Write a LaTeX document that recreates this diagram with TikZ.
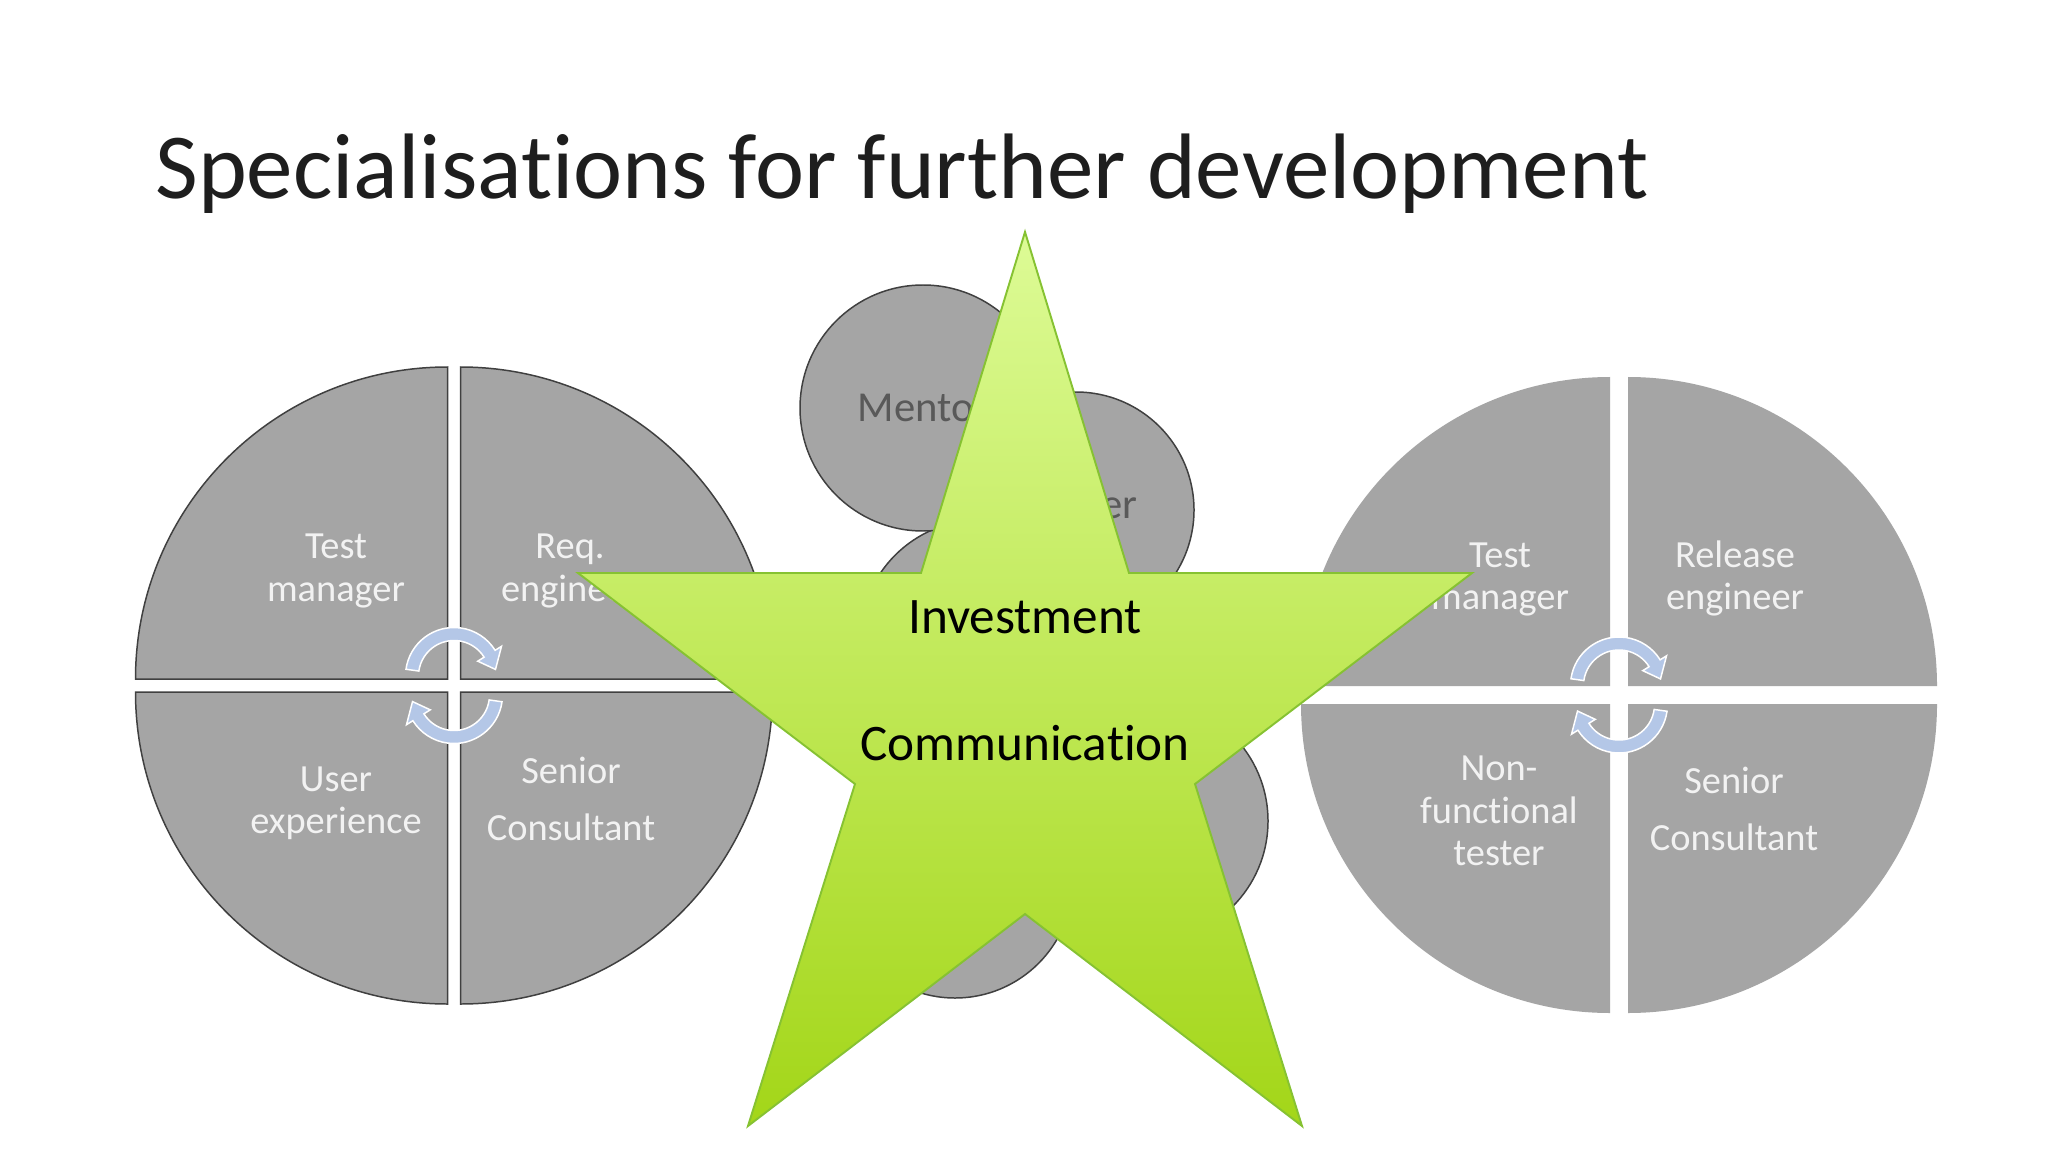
\documentclass[tikz,border=0pt]{standalone}
\usepackage{fontspec}
\setmainfont{Carlito}[Ligatures={NoCommon}]
\definecolor{quadfill}{HTML}{A5A5A5}
\definecolor{quadline}{HTML}{404040}
\definecolor{labelcol}{HTML}{F2F2F2}
\definecolor{mentcol}{HTML}{595959}
\definecolor{arrowcol}{HTML}{B4C7E7}
\definecolor{titlecol}{HTML}{1E1E1E}
\definecolor{startop}{HTML}{DDFB96}
\definecolor{starmid}{HTML}{D1F374}
\definecolor{starbot}{HTML}{A3D618}
\definecolor{starline}{HTML}{86C232}
\begin{document}
\begin{tikzpicture}[x=0.46875pt, y=-0.46875pt,
  quadL/.style={fill=quadfill, draw=quadline, line width=0.7pt},
  quadR/.style={fill=quadfill},
  bubble/.style={fill=quadfill, draw=quadline, line width=0.7pt},
  arrowfill/.style={fill=arrowcol, draw=white, line width=0.7pt, line join=miter},
  lbl/.style={anchor=base, inner sep=0pt, text=labelcol, font=\fontsize{18}{21}\selectfont},
  startext/.style={anchor=base, inner sep=0pt, text=black, font=\fontsize{24}{29}\selectfont},
  menttext/.style={inner sep=0pt, text=mentcol, font=\fontsize{20}{24}\selectfont},
  cyc/.pic={
    \begin{scope}[shift={(0,-9.5)}]
      \filldraw[arrowfill] (188:48.5) arc[start angle=188, end angle=328, radius=48.5]
        -- (328:56) -- (351:42) -- (328:28) -- (328:35.5)
        arc[start angle=328, end angle=188, radius=35.5] -- cycle;
    \end{scope}
  }]
\useasboundingbox (0,0) rectangle (2048,1152);
\fill[white] (0,0) rectangle (2048,1152);

% title
\node[anchor=base west, inner sep=0pt, text=titlecol, font=\fontsize{43.6}{52}\selectfont] (title) at (155,198.3) {Specialisations for further development};

% left disc
\begin{scope}[shift={(454,685.5)}]
  \filldraw[quadL] (-6.5,-6.5) -- ++(180:312) arc[start angle=180, end angle=270, radius=312] -- cycle;
  \filldraw[quadL] (6.5,-6.5) -- ++(270:312) arc[start angle=270, end angle=360, radius=312] -- cycle;
  \filldraw[quadL] (6.5,6.5) -- ++(0:312) arc[start angle=0, end angle=90, radius=312] -- cycle;
  \filldraw[quadL] (-6.5,6.5) -- ++(90:312) arc[start angle=90, end angle=180, radius=312] -- cycle;
  \pic {cyc};
  \pic[rotate=180] {cyc};
\end{scope}

% right disc
\begin{scope}[shift={(1619,695)}]
  \fill[quadR] (-9,-9) -- ++(180:309) arc[start angle=180, end angle=270, radius=309] -- cycle;
  \fill[quadR] (9,-9) -- ++(270:309) arc[start angle=270, end angle=360, radius=309] -- cycle;
  \fill[quadR] (9,9) -- ++(0:309) arc[start angle=0, end angle=90, radius=309] -- cycle;
  \fill[quadR] (-9,9) -- ++(90:309) arc[start angle=90, end angle=180, radius=309] -- cycle;
  \pic {cyc};
  \pic[rotate=180] {cyc};
\end{scope}

% left labels
\node[lbl] (l1a) at (336,558) {Test};
\node[lbl] (l1b) at (336,601) {manager};
\node[lbl] (l2a) at (570,558) {Req.};
\node[lbl] (l2b) at (570,601) {engineer};
\node[lbl] (l3a) at (336,791.5) {User};
\node[lbl] (l3b) at (336,833) {experience};
\node[lbl] (l4a) at (571,783.6) {Senior};
\node[lbl] (l4b) at (571,840) {Consultant};

% right labels
\node[lbl] (r1a) at (1500,567.3) {Test};
\node[lbl] (r1b) at (1500,609.4) {manager};
\node[lbl] (r2a) at (1735,567.3) {Release};
\node[lbl] (r2b) at (1735,609.4) {engineer};
\node[lbl] (r3a) at (1499,780.6) {Non-};
\node[lbl] (r3b) at (1499,823) {functional};
\node[lbl] (r3c) at (1499,865.2) {tester};
\node[lbl] (r4a) at (1734,793.6) {Senior};
\node[lbl] (r4b) at (1734,850) {Consultant};

% bubbles behind the star
\filldraw[bubble] (980,640) circle[radius=120];
\filldraw[bubble] (923,408) circle[radius=123];
\filldraw[bubble] (1076,510) circle[radius=118];
\filldraw[bubble] (1147,821) circle[radius=121];
\filldraw[bubble] (955,880) circle[radius=118];
\node[menttext, anchor=base] (mentor) at (923,421.7) {Mentor};
\node[menttext, anchor=base east] (er) at (1138,518) {er};

% star
\shade[top color=startop, middle color=starmid, bottom color=starbot]
  (1025,232) -- (1129,573) -- (1472,573) -- (1195,784) -- (1302,1126)
  -- (1025,914) -- (748,1126) -- (855,784) -- (578,573) -- (921,573) -- cycle;
\draw[starline, line width=0.9pt, line join=miter]
  (1025,232) -- (1129,573) -- (1472,573) -- (1195,784) -- (1302,1126)
  -- (1025,914) -- (748,1126) -- (855,784) -- (578,573) -- (921,573) -- cycle;
\node[startext] (inv) at (1025,633) {Investment};
\node[startext] (comm) at (1025,760) {Communication};
\end{tikzpicture}
\end{document}
